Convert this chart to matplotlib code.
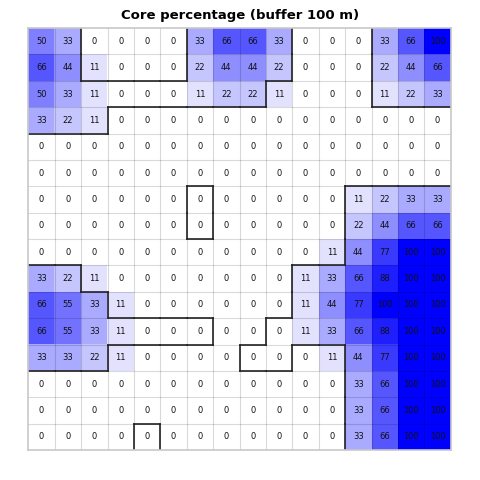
import matplotlib
matplotlib.use("Agg")
import matplotlib.pyplot as plt
import numpy as np

### core percentage grid, 16 x 16 cells ###

title = "Core percentage (buffer 100 m)"

core = [
    [50, 33, 0, 0, 0, 0, 33, 66, 66, 33, 0, 0, 0, 33, 66, 100],
    [66, 44, 11, 0, 0, 0, 22, 44, 44, 22, 0, 0, 0, 22, 44, 66],
    [50, 33, 11, 0, 0, 0, 11, 22, 22, 11, 0, 0, 0, 11, 22, 33],
    [33, 22, 11, 0, 0, 0, 0, 0, 0, 0, 0, 0, 0, 0, 0, 0],
    [0, 0, 0, 0, 0, 0, 0, 0, 0, 0, 0, 0, 0, 0, 0, 0],
    [0, 0, 0, 0, 0, 0, 0, 0, 0, 0, 0, 0, 0, 0, 0, 0],
    [0, 0, 0, 0, 0, 0, 0, 0, 0, 0, 0, 0, 11, 22, 33, 33],
    [0, 0, 0, 0, 0, 0, 0, 0, 0, 0, 0, 0, 22, 44, 66, 66],
    [0, 0, 0, 0, 0, 0, 0, 0, 0, 0, 0, 11, 44, 77, 100, 100],
    [33, 22, 11, 0, 0, 0, 0, 0, 0, 0, 11, 33, 66, 88, 100, 100],
    [66, 55, 33, 11, 0, 0, 0, 0, 0, 0, 11, 44, 77, 100, 100, 100],
    [66, 55, 33, 11, 0, 0, 0, 0, 0, 0, 11, 33, 66, 88, 100, 100],
    [33, 33, 22, 11, 0, 0, 0, 0, 0, 0, 0, 11, 44, 77, 100, 100],
    [0, 0, 0, 0, 0, 0, 0, 0, 0, 0, 0, 0, 33, 66, 100, 100],
    [0, 0, 0, 0, 0, 0, 0, 0, 0, 0, 0, 0, 33, 66, 100, 100],
    [0, 0, 0, 0, 0, 0, 0, 0, 0, 0, 0, 0, 33, 66, 100, 100],
]

# patch id of every cell, outlines are drawn where neighbours differ
patches = [
    "1122221111444333",
    "1122221111444333",
    "1111111114444333",
    "1114444444444444",
    "4444444444444444",
    "4444444444444444",
    "4444445444446666",
    "4444445444446666",
    "4444444444446666",
    "7744444444666666",
    "7774444444666666",
    "7777777446666666",
    "7774444466446666",
    "4444444444446666",
    "4444444444446666",
    "4444844444446666",
]

core = np.array(core)
n_rows, n_cols = core.shape

fig = plt.figure(figsize=(4.8, 4.8), dpi=100)
ax = fig.add_axes([0.059, 0.0625, 0.88, 0.879])

# white -> blue
frac = core / 100.0
rgb = np.stack([1 - frac, 1 - frac, np.ones_like(frac)], axis=-1)
ax.imshow(rgb, extent=(0, n_cols, n_rows, 0), interpolation='nearest', aspect='auto')

for i in range(1, n_cols) :
    ax.axvline(i, color='black', alpha=0.15, lw=0.8)
for j in range(1, n_rows) :
    ax.axhline(j, color='black', alpha=0.15, lw=0.8)

for r in range(n_rows) :
    for c in range(n_cols) :
        ax.text(c + 0.5, r + 0.5, str(core[r, c]), ha='center', va='center',
                fontsize=6, color='#111111')

# outlines between patches
for r in range(n_rows) :
    for c in range(n_cols) :
        if c + 1 < n_cols and patches[r][c] != patches[r][c + 1] :
            ax.plot([c + 1, c + 1], [r, r + 1], color='#222222', lw=1.2, solid_capstyle='projecting')
        if r + 1 < n_rows and patches[r][c] != patches[r + 1][c] :
            ax.plot([c, c + 1], [r + 1, r + 1], color='#222222', lw=1.2, solid_capstyle='projecting')

ax.set_xlim(0, n_cols)
ax.set_ylim(n_rows, 0)
ax.set_xticks([])
ax.set_yticks([])
for s in ax.spines.values() :
    s.set_color('#c8c8c8')
    s.set_linewidth(1.2)

fig.text(0.5, 0.967, title, ha='center', va='center', fontsize=9.5, fontweight='bold')

fig.savefig("out.png", dpi=100)
